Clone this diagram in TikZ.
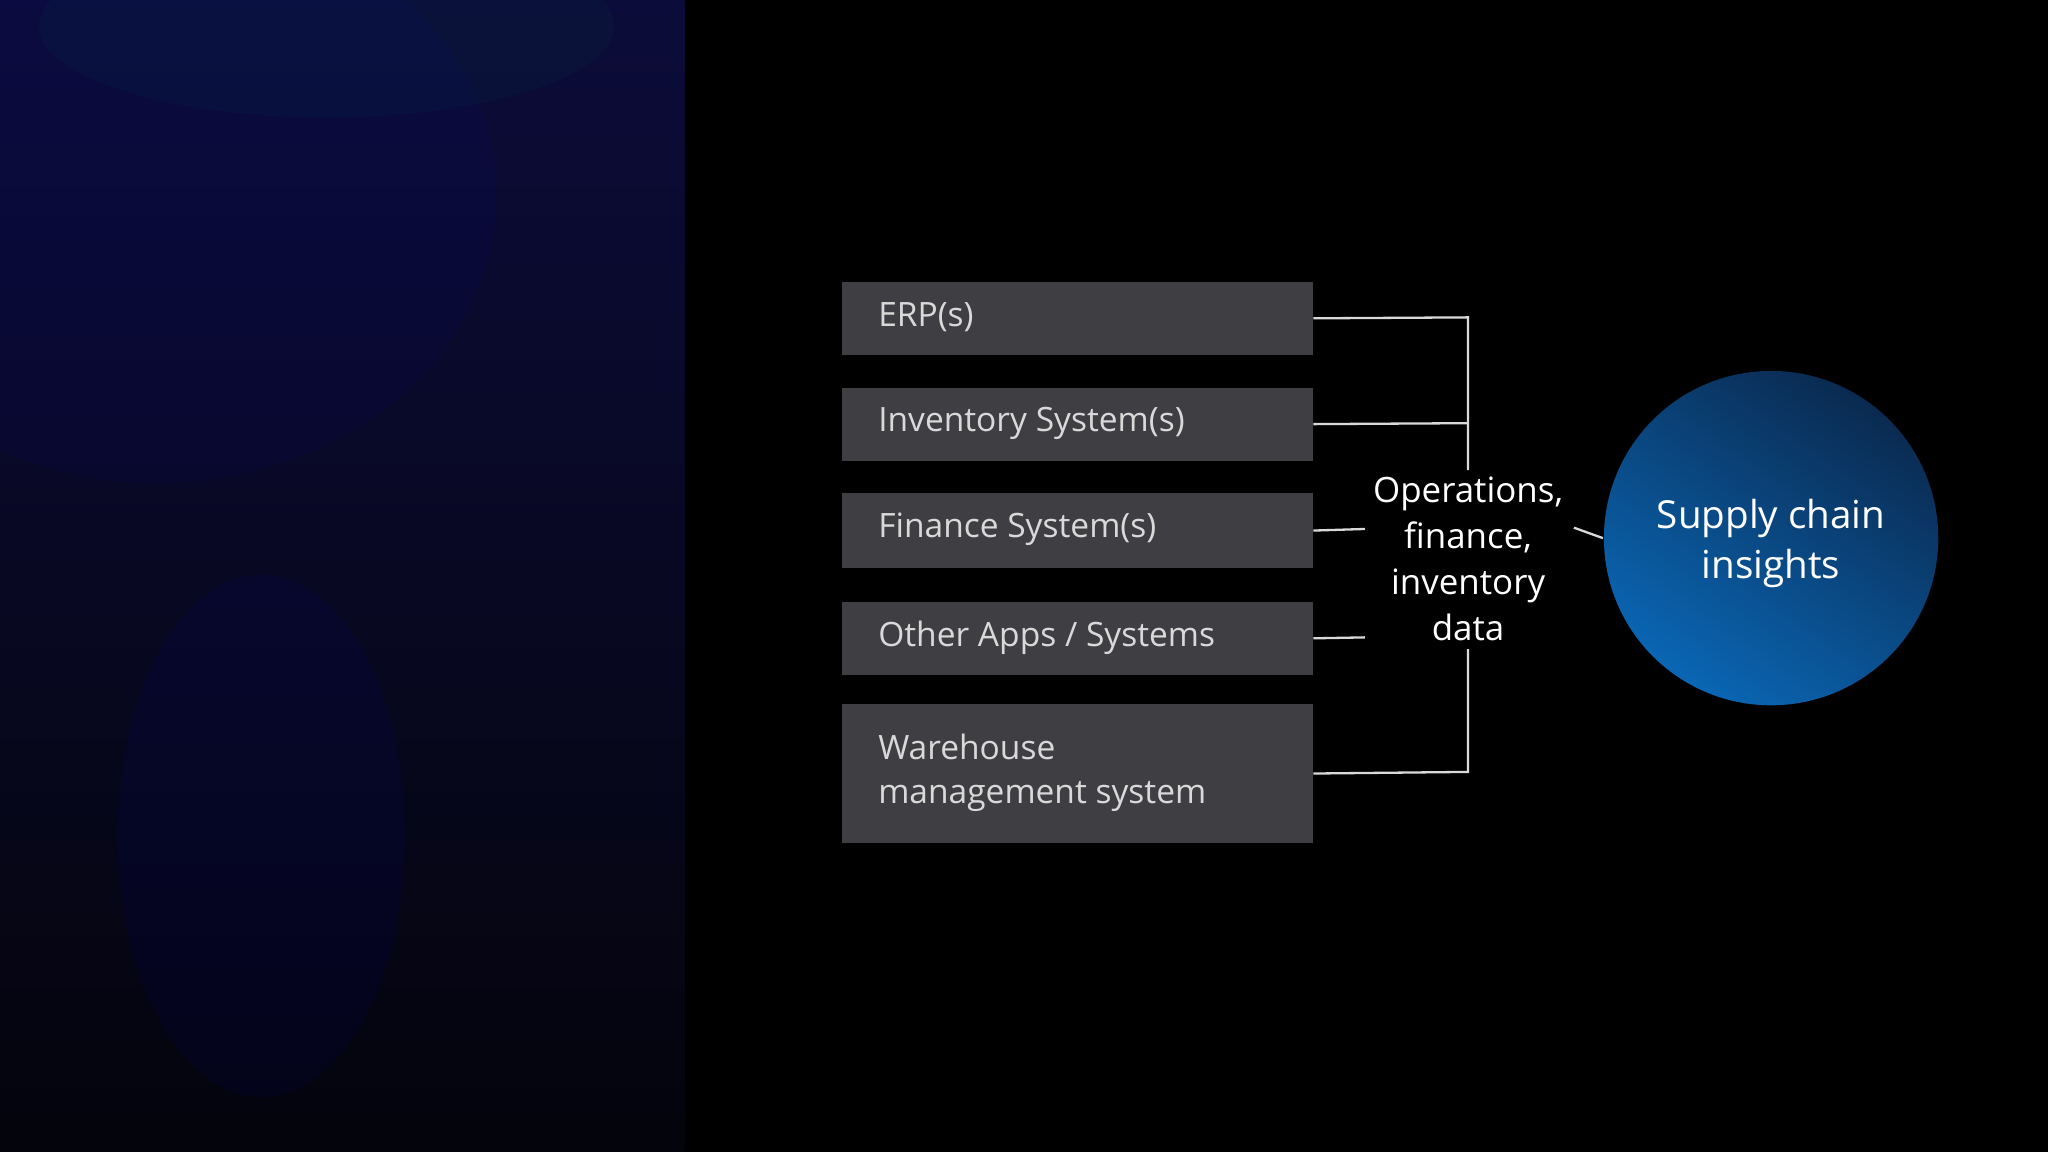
\documentclass[tikz,border=0pt]{standalone}
\usepackage{fontspec}
\setmainfont{Open Sans}
\definecolor{boxgray}{HTML}{3F3E42}
\definecolor{boxtext}{HTML}{D9D9D9}
\definecolor{circdark}{HTML}{0A1E3C}
\definecolor{circlight}{HTML}{0A72C8}
\definecolor{paneltop}{HTML}{0C0C3A}
\definecolor{panelbot}{HTML}{04040C}
\begin{document}
\begin{tikzpicture}[x=0.01cm,y=-0.01cm,
  sysbox/.style={fill=boxgray,draw=none,inner sep=0pt,anchor=north west,minimum width=3.6cm},
  boxlabel/.style={anchor=west,text=boxtext,align=left,font=\fontsize{7.3}{9.6}\selectfont},
  link/.style={draw=white!85!black,line width=0.5pt}]
\useasboundingbox (0,0) rectangle (1568,882);
\fill[black] (0,0) rectangle (1568,882);
% left gradient panel
\shade[top color=paneltop, bottom color=panelbot] (0,0) rectangle (524,882);
\begin{scope}
\clip (0,0) rectangle (524,882);
\fill[blue!60!black,opacity=0.08] (120,150) ellipse (260 and 220);
\fill[blue!70!black,opacity=0.08] (200,640) ellipse (110 and 200);
\fill[teal!60!black,opacity=0.1] (250,20) ellipse (220 and 70);
\end{scope}
% boxes
\node[sysbox,minimum height=0.56cm] (erp) at (644,215) {};
\node[boxlabel] at (660,243) {ERP(s)};
\node[sysbox,minimum height=0.56cm] (inv) at (644,296) {};
\node[boxlabel] at (660,324) {Inventory System(s)};
\node[sysbox,minimum height=0.57cm] (fin) at (644,377) {};
\node[boxlabel] at (660,405) {Finance System(s)};
\node[sysbox,minimum height=0.56cm] (oth) at (644,460) {};
\node[boxlabel] at (660,488) {Other Apps / Systems};
\node[sysbox,minimum height=1.07cm] (wms) at (644,538) {};
\node[boxlabel] at (660,592) {Warehouse\\management system};
% middle text
\node[text=white,align=center,font=\fontsize{7.6}{10}\selectfont] (data) at (1124,428) {Operations,\\finance,\\inventory\\data};
% circle
\begin{scope}
\clip (1356,412) circle (128);
\shade[shading=axis, top color=circdark, bottom color=circlight, shading angle=-35] (1176,232) rectangle (1536,592);
\end{scope}
\node[circle,minimum size=2.56cm,inner sep=0pt] (sci) at (1356,412) {};
\node[text=white,align=center,font=\fontsize{8.4}{11}\selectfont] at (1356,416) {Supply chain\\insights};
% connectors
\coordinate (j1) at (1124,243);
\coordinate (j2) at (1124,360);
\coordinate (j3) at (1124,497);
\coordinate (j4) at (1124,591);
\draw[link] (erp.east) -- (j1) -- (j2);
\draw[link] (inv.east) -- (1124,324);
\draw[link] (fin.east) -- (1045,405);
\draw[link] (oth.east) -- (1045,488);
\draw[link] (wms.east) -- (j4) -- (j3);
\draw[link] (1205,404) -- (sci.west);
\end{tikzpicture}
\end{document}
